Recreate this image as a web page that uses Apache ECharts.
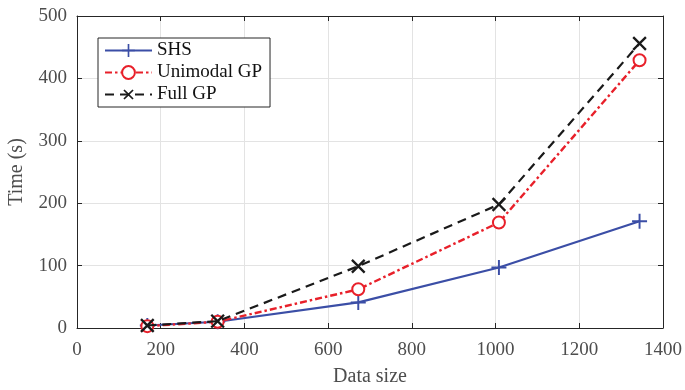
<!DOCTYPE html>
<html>
<head>
<meta charset="utf-8">
<script src="https://cdn.jsdelivr.net/npm/echarts@6/dist/echarts.min.js"></script>
<style>
  html, body { margin: 0; padding: 0; background: #fff; }
  #chart { width: 685px; height: 390px; }
</style>
</head>
<body>
<div id="chart"></div>
<script>
// 数据：横轴为样本规模，纵轴为耗时（秒）
const dataSize = [168, 336, 672, 1008, 1344];
const shsTime = [4, 10, 41, 97, 171];
const unimodalTime = [3, 10, 62, 169, 429];
const fullGpTime = [4, 11, 99, 198, 456];
const xTicks = [0, 200, 400, 600, 800, 1000, 1200, 1400];
const yTicks = [0, 100, 200, 300, 400, 500];

const FONT = '"Liberation Serif", "Times New Roman", serif';
const plus = 'path://M-0.13,-1 L0.13,-1 L0.13,-0.13 L1,-0.13 L1,0.13 L0.13,0.13 L0.13,1 L-0.13,1 L-0.13,0.13 L-1,0.13 L-1,-0.13 L-0.13,-0.13 Z';
const pairs = (ys) => dataSize.map((x, i) => [x, ys[i]]);

const chart = echarts.init(document.getElementById('chart'), null, { renderer: 'canvas' });

const axisLine = { show: true, onZero: false, lineStyle: { color: '#262626', width: 1 } };
const tick = { show: true, inside: true, length: 5, lineStyle: { color: '#262626' } };
const label = { fontFamily: FONT, fontSize: 19, color: '#4d4d4d' };

chart.setOption({
  animation: false,
  textStyle: { fontFamily: FONT },
  grid: { left: 77, right: 22, top: 16, bottom: 62, containLabel: false, outerBoundsMode: 'none' },
  legend: {
    orient: 'vertical',
    left: 98,
    top: 38,
    padding: [3, 8, 3, 6],
    itemGap: 3,
    itemWidth: 47,
    itemHeight: 16,
    backgroundColor: '#fff',
    borderColor: '#262626',
    borderWidth: 1,
    textStyle: { fontFamily: FONT, fontSize: 19, color: '#111' },
    data: ['SHS', 'Unimodal GP', 'Full GP'],
  },
  xAxis: [
    {
      type: 'value',
      min: xTicks[0],
      max: xTicks[xTicks.length - 1],
      interval: 200,
      name: 'Data size',
      nameLocation: 'middle',
      nameGap: 39,
      nameTextStyle: { ...label, fontSize: 20 },
      axisLine,
      axisTick: tick,
      axisLabel: { ...label, margin: 13, formatter: (v) => String(v) },
      splitLine: { show: true, lineStyle: { color: '#e3e3e3' } },
    },
    {
      type: 'value',
      position: 'top',
      min: xTicks[0],
      max: xTicks[xTicks.length - 1],
      interval: 200,
      axisLine,
      axisTick: tick,
      axisLabel: { show: false },
      splitLine: { show: false },
    },
  ],
  yAxis: [
    {
      type: 'value',
      min: yTicks[0],
      max: yTicks[yTicks.length - 1],
      interval: 100,
      name: 'Time (s)',
      nameLocation: 'middle',
      nameGap: 50,
      nameTextStyle: { ...label, fontSize: 20 },
      axisLine,
      axisTick: tick,
      axisLabel: { ...label, margin: 10 },
      splitLine: { show: true, lineStyle: { color: '#e3e3e3' } },
    },
    {
      type: 'value',
      position: 'right',
      min: yTicks[0],
      max: yTicks[yTicks.length - 1],
      interval: 100,
      axisLine,
      axisTick: tick,
      axisLabel: { show: false },
      splitLine: { show: false },
    },
  ],
  series: [
    {
      name: 'SHS',
      type: 'line',
      data: pairs(shsTime),
      symbol: plus,
      symbolSize: 15,
      itemStyle: { color: '#3b4ea6' },
      lineStyle: { color: '#3b4ea6', width: 2.2 },
      z: 3,
    },
    {
      name: 'Unimodal GP',
      type: 'line',
      data: pairs(unimodalTime),
      symbol: 'emptyCircle',
      symbolSize: 12,
      itemStyle: { color: '#e8202a', borderWidth: 2.4 },
      lineStyle: { color: '#e8202a', width: 2.4, type: [7, 3, 2.5, 3] },
      z: 4,
    },
    {
      name: 'Full GP',
      type: 'line',
      data: pairs(fullGpTime),
      symbol: plus,
      symbolRotate: 45,
      symbolSize: 18,
      itemStyle: { color: '#1a1a1a' },
      lineStyle: { color: '#1a1a1a', width: 2.2, type: [9, 6] },
      z: 5,
    },
  ],
});
</script>
</body>
</html>
